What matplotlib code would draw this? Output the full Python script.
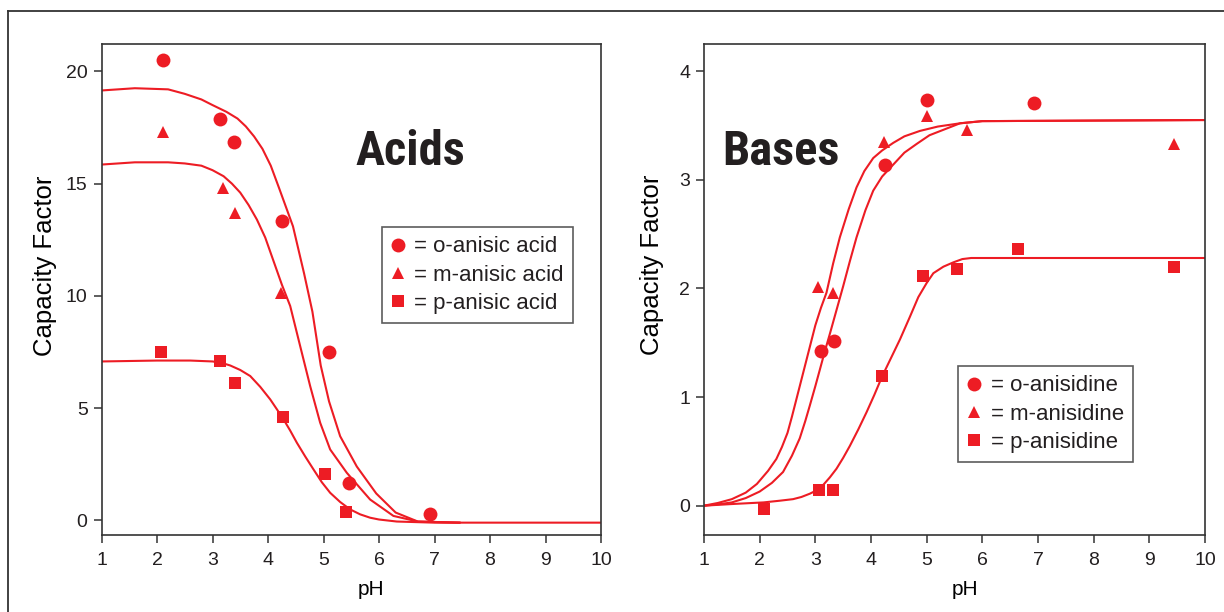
import matplotlib.pyplot as plt
from matplotlib.lines import Line2D

RED = "#ed1c24"
INK = "#231f20"

# acids: measured points
o_acid_ph = [2.10, 3.14, 3.39, 4.26, 5.10, 5.46, 6.92]
o_acid_k = [20.5, 17.9, 16.85, 13.35, 7.52, 1.65, 0.27]
m_acid_ph = [2.10, 3.19, 3.41, 4.24]
m_acid_k = [17.3, 14.8, 13.7, 10.15]
p_acid_ph = [2.08, 3.14, 3.41, 4.27, 5.03, 5.41]
p_acid_k = [7.48, 7.12, 6.14, 4.59, 2.05, 0.36]

# acids: fitted curves
o_acid_fit_ph = [1.0, 1.6, 2.2, 2.5, 2.8, 3.0, 3.25, 3.45, 3.6, 3.75, 3.9,
                 4.05, 4.2, 4.45, 4.65, 4.8, 4.95, 5.1, 5.3, 5.6, 5.95, 6.3,
                 6.7, 7.45]
o_acid_fit_k = [19.15, 19.25, 19.2, 19.0, 18.75, 18.5, 18.2, 17.9, 17.55,
                17.1, 16.55, 15.8, 14.8, 13.1, 11.0, 9.3, 6.9, 5.3, 3.75, 2.4,
                1.2, 0.35, -0.05, -0.1]
m_acid_fit_ph = [1.0, 1.6, 2.2, 2.5, 2.8, 3.0, 3.2, 3.35, 3.5, 3.65, 3.8,
                 3.95, 4.05, 4.25, 4.4, 4.58, 4.76, 4.94, 5.12, 5.42, 5.84,
                 6.26, 6.7, 7.45]
m_acid_fit_k = [15.85, 15.95, 15.95, 15.9, 15.8, 15.6, 15.33, 15.0, 14.6,
                14.05, 13.4, 12.6, 11.9, 10.5, 9.55, 7.76, 5.98, 4.35, 3.16,
                2.12, 0.93, 0.2, -0.05, -0.1]
p_acid_fit_ph = [1.0, 2.0, 2.6, 3.0, 3.16, 3.32, 3.5, 3.68, 3.86, 4.04,
                 4.16, 4.28, 4.4, 4.52, 4.67, 4.82, 4.97, 5.12, 5.3, 5.48,
                 5.66, 5.84, 6.0, 6.32, 7.0, 10.0]
p_acid_fit_k = [7.08, 7.12, 7.12, 7.08, 7.02, 6.9, 6.7, 6.43, 5.95, 5.39,
                4.95, 4.5, 4.0, 3.46, 2.85, 2.27, 1.7, 1.23, 0.82, 0.49,
                0.27, 0.12, 0.04, -0.05, -0.1, -0.1]

# bases: measured points
o_base_ph = [3.11, 3.33, 4.25, 5.00, 6.93]
o_base_k = [1.42, 1.52, 3.14, 3.73, 3.71]
m_base_ph = [3.05, 3.32, 4.23, 5.00, 5.72, 9.44]
m_base_k = [2.01, 1.955, 3.35, 3.59, 3.46, 3.33]
p_base_ph = [2.07, 3.07, 3.32, 4.20, 4.94, 5.54, 6.64, 9.44]
p_base_k = [-0.03, 0.146, 0.146, 1.19, 2.11, 2.18, 2.36, 2.20]

# bases: fitted curves
m_base_fit_ph = [1.0, 1.25, 1.5, 1.75, 1.95, 2.15, 2.3, 2.4, 2.5, 2.58,
                 2.66, 2.75, 2.84, 2.92, 3.0, 3.1, 3.2, 3.32, 3.44, 3.6,
                 3.74, 3.88, 4.04, 4.2, 4.4, 4.6, 4.88, 5.2, 5.6, 6.0, 10.0]
m_base_fit_k = [0.0, 0.025, 0.06, 0.12, 0.2, 0.32, 0.43, 0.54, 0.67, 0.82,
                0.98, 1.16, 1.34, 1.5, 1.66, 1.82, 1.96, 2.23, 2.47, 2.73,
                2.93, 3.08, 3.2, 3.27, 3.34, 3.40, 3.45, 3.49, 3.52, 3.54,
                3.55]
o_base_fit_ph = [1.0, 1.25, 1.5, 1.75, 2.0, 2.22, 2.42, 2.58, 2.72, 2.82,
                 2.9, 3.0, 3.08, 3.17, 3.26, 3.38, 3.5, 3.62, 3.74, 3.9,
                 4.04, 4.2, 4.4, 4.6, 4.82, 5.05, 5.3, 5.6, 6.0, 10.0]
o_base_fit_k = [0.0, 0.012, 0.03, 0.07, 0.13, 0.21, 0.31, 0.46, 0.62, 0.78,
                0.92, 1.1, 1.25, 1.42, 1.58, 1.8, 2.02, 2.25, 2.47, 2.72,
                2.9, 3.03, 3.14, 3.25, 3.33, 3.41, 3.46, 3.52, 3.54, 3.55]
p_base_fit_ph = [1.0, 1.5, 2.07, 2.35, 2.6, 2.75, 2.9, 3.02, 3.14, 3.26,
                 3.38, 3.5, 3.62, 3.77, 3.92, 4.06, 4.2, 4.36, 4.52, 4.7,
                 4.85, 5.0, 5.12, 5.3, 5.48, 5.64, 5.8, 10.0]
p_base_fit_k = [0.0, 0.015, 0.03, 0.045, 0.06, 0.08, 0.11, 0.14, 0.19, 0.26,
                0.34, 0.44, 0.55, 0.7, 0.86, 1.02, 1.19, 1.36, 1.53, 1.74,
                1.92, 2.05, 2.14, 2.2, 2.24, 2.27, 2.28, 2.28]

acid_labels = ["= o-anisic acid", "= m-anisic acid", "= p-anisic acid"]
base_labels = ["= o-anisidine", "= m-anisidine", "= p-anisidine"]
ph_ticks = list(range(1, 11))

plt.rcParams["font.family"] = ["Liberation Sans", "DejaVu Sans"]
plt.rcParams["text.color"] = INK
plt.rcParams["lines.solid_joinstyle"] = "round"

title_fonts = ["Liberation Sans Narrow", "Roboto Condensed",
               "DejaVu Sans Condensed", "Liberation Sans"]

fig = plt.figure(figsize=(12.24, 6.12), dpi=100)

# thin frame along the top and left edge
fig.add_artist(Line2D([8 / 1224, 1], [1 - 11 / 612] * 2, color="#333333", lw=1.3))
fig.add_artist(Line2D([8 / 1224] * 2, [0, 1 - 11 / 612], color="#333333", lw=1.3))

ax1 = fig.add_axes([101.5 / 1224, 77 / 612, 499.5 / 1224, 491 / 612])
ax2 = fig.add_axes([704 / 1224, 77 / 612, 501 / 1224, 491 / 612])

mk = dict(color=RED, linestyle="none", markeredgewidth=0)


def style(ax, ylim, yticks):
    ax.set_xlim(1, 10)
    ax.set_ylim(*ylim)
    ax.set_xticks(ph_ticks)
    ax.set_yticks(yticks)
    for s in ax.spines.values():
        s.set_color("#333333")
        s.set_linewidth(1.2)
    ax.tick_params(direction="out", length=6, width=1.1, color="#333333",
                   labelsize=14, labelcolor=INK)
    ax.tick_params(axis="x", pad=6)
    ax.tick_params(axis="y", pad=4)


def add_legend(ax, labels, anchor):
    handles = [Line2D([], [], marker="o", markersize=10, **mk),
               Line2D([], [], marker="^", markersize=9, **mk),
               Line2D([], [], marker="s", markersize=8, **mk)]
    leg = ax.legend(handles, labels, loc="upper left", bbox_to_anchor=anchor,
                    fontsize=16, frameon=True, fancybox=False, handlelength=0.6,
                    handletextpad=0.45, labelspacing=0.33, borderpad=0.42,
                    borderaxespad=0)
    leg.get_frame().set_edgecolor("#333333")
    leg.get_frame().set_linewidth(1.2)


# acids panel
ax1.plot(o_acid_fit_ph, o_acid_fit_k, color=RED, lw=1.5)
ax1.plot(m_acid_fit_ph, m_acid_fit_k, color=RED, lw=1.5)
ax1.plot(p_acid_fit_ph, p_acid_fit_k, color=RED, lw=1.5)
ax1.plot(o_acid_ph, o_acid_k, marker="o", markersize=10, **mk)
ax1.plot(m_acid_ph, m_acid_k, marker="^", markersize=9, **mk)
ax1.plot(p_acid_ph, p_acid_k, marker="s", markersize=8, **mk)
style(ax1, (-0.65, 21.22), [0, 5, 10, 15, 20])
ax1.set_xlabel("pH", fontsize=15)
ax1.xaxis.set_label_coords(0.54, -0.112)
ax1.xaxis.label.set_va("center")
ax1.set_ylabel("Capacity Factor", fontsize=18.5, va="center")
ax1.yaxis.set_label_coords(-0.113, 0.548)
ax1.text(0.509, 0.78, "Acids", transform=ax1.transAxes, fontsize=35,
         fontweight="bold", va="center", ha="left", family=title_fonts)
add_legend(ax1, acid_labels, (0.561, 0.627))

# bases panel
ax2.plot(m_base_fit_ph, m_base_fit_k, color=RED, lw=1.5)
ax2.plot(o_base_fit_ph, o_base_fit_k, color=RED, lw=1.5)
ax2.plot(p_base_fit_ph, p_base_fit_k, color=RED, lw=1.5)
ax2.plot(o_base_ph, o_base_k, marker="o", markersize=10, **mk)
ax2.plot(m_base_ph, m_base_k, marker="^", markersize=9, **mk)
ax2.plot(p_base_ph, p_base_k, marker="s", markersize=8, **mk)
style(ax2, (-0.27, 4.25), [0, 1, 2, 3, 4])
ax2.set_xlabel("pH", fontsize=15)
ax2.xaxis.set_label_coords(0.52, -0.112)
ax2.xaxis.label.set_va("center")
ax2.set_ylabel("Capacity Factor", fontsize=18.5, va="center")
ax2.yaxis.set_label_coords(-0.104, 0.55)
ax2.text(0.036, 0.78, "Bases", transform=ax2.transAxes, fontsize=35,
         fontweight="bold", va="center", ha="left", family=title_fonts)
add_legend(ax2, base_labels, (0.507, 0.344))

fig.savefig("out.png", dpi=100)
